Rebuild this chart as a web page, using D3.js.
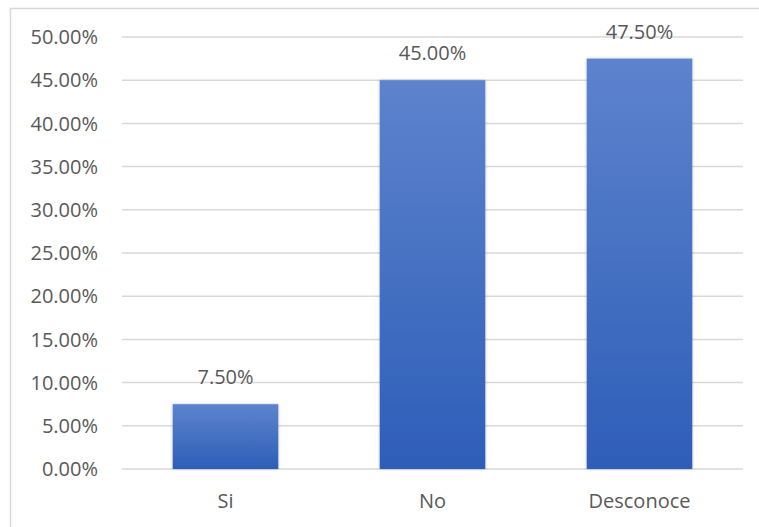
<!DOCTYPE html>
<html>
<head>
<meta charset="utf-8">
<script src="https://cdn.jsdelivr.net/npm/d3@7"></script>
<style>
  body { margin: 0; background: #fff; }
  text { font-family: "Open Sans", "Noto Sans", sans-serif; fill: #595959; }
</style>
</head>
<body>
<div id="chart"></div>
<script>
const categories = ["Si", "No", "Desconoce"];
const values = [7.5, 45.0, 47.5];
const yTicks = [0, 5, 10, 15, 20, 25, 30, 35, 40, 45, 50];

const width = 759, height = 527;
const margin = {top: 37, right: 16, bottom: 58, left: 122};

const svg = d3.select("#chart").append("svg")
    .attr("width", width)
    .attr("height", height);

// chart frame
svg.append("rect")
    .attr("x", 10.5)
    .attr("y", 8.5)
    .attr("width", width + 20)
    .attr("height", height + 20)
    .attr("fill", "none")
    .attr("stroke", "#d9d9d9")
    .attr("stroke-width", 1.5);

const x = d3.scaleBand()
    .domain(categories)
    .range([margin.left, width - margin.right])
    .paddingInner(0.49)
    .paddingOuter(0.245);

const y = d3.scaleLinear()
    .domain([0, 50])
    .range([height - margin.bottom, margin.top]);

const defs = svg.append("defs");
const grad = defs.append("linearGradient")
    .attr("id", "barGrad")
    .attr("x1", "0%").attr("x2", "0%")
    .attr("y1", "0%").attr("y2", "100%");
grad.append("stop").attr("offset", "0%").attr("stop-color", "#5d83cd");
grad.append("stop").attr("offset", "100%").attr("stop-color", "#2e5eb8");

const shadow = defs.append("filter").attr("id", "shadow")
    .attr("x", "-10%").attr("y", "-10%").attr("width", "120%").attr("height", "120%");
shadow.append("feDropShadow")
    .attr("dx", 0).attr("dy", 0).attr("stdDeviation", 1.5)
    .attr("flood-color", "#000").attr("flood-opacity", 0.25);

// gridlines
svg.append("g")
    .selectAll("line")
    .data(yTicks)
    .enter().append("line")
    .attr("x1", margin.left)
    .attr("x2", width - margin.right)
    .attr("y1", d => y(d))
    .attr("y2", d => y(d))
    .attr("stroke", "#d9d9d9")
    .attr("stroke-width", 1.5);

// y labels
svg.append("g")
    .selectAll("text")
    .data(yTicks)
    .enter().append("text")
    .attr("x", 98)
    .attr("y", d => y(d))
    .attr("dy", "0.36em")
    .attr("text-anchor", "end")
    .style("font-size", "20px")
    .text(d => d.toFixed(2) + "%");

// bars
svg.append("g")
    .selectAll("rect")
    .data(values)
    .enter().append("rect")
    .attr("x", (d, i) => x(categories[i]))
    .attr("y", d => y(d))
    .attr("width", x.bandwidth())
    .attr("height", d => y(0) - y(d))
    .attr("fill", "url(#barGrad)")
    .attr("filter", "url(#shadow)");

// value labels
svg.append("g")
    .selectAll("text")
    .data(values)
    .enter().append("text")
    .attr("x", (d, i) => x(categories[i]) + x.bandwidth() / 2)
    .attr("y", d => y(d) - 20)
    .attr("text-anchor", "middle")
    .style("font-size", "20px")
    .text(d => d.toFixed(2) + "%");

// x labels
svg.append("g")
    .selectAll("text")
    .data(categories)
    .enter().append("text")
    .attr("x", d => x(d) + x.bandwidth() / 2)
    .attr("y", 508)
    .attr("text-anchor", "middle")
    .style("font-size", "20px")
    .text(d => d);
</script>
</body>
</html>
